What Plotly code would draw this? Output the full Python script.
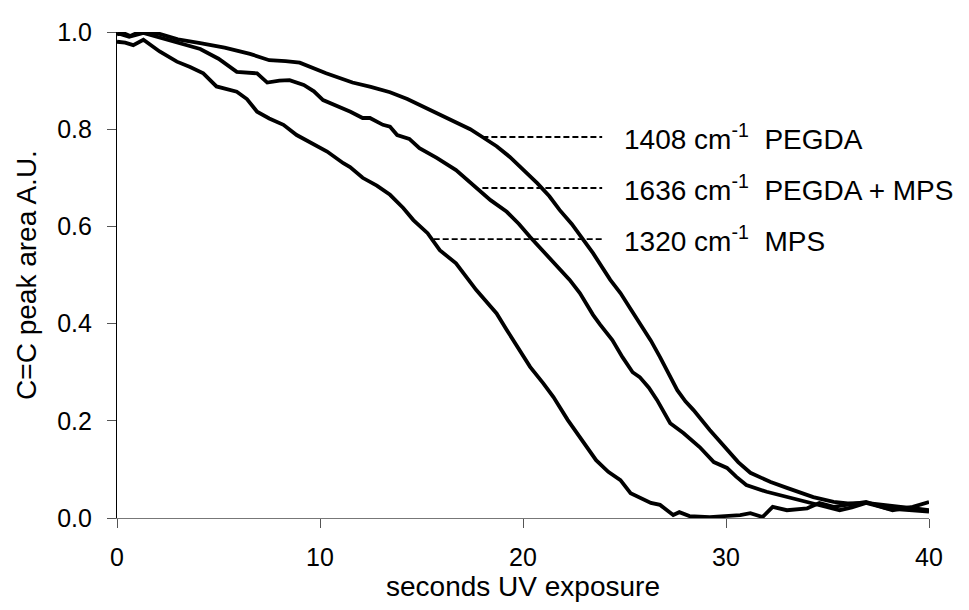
import plotly.graph_objects as go

# ---- data ----
pegda_x = [0, 0.3, 0.65, 1.1, 2.1, 3.0, 4.1, 5.3, 6.55, 7.5, 8.3, 9.0, 10.3, 11.0, 11.6, 12.5,
           13.45, 14.3, 15.1, 15.9, 16.7, 17.4, 18.0, 18.7, 19.35, 20.0, 20.7, 21.3, 21.8, 22.4,
           22.95, 23.45, 24.3, 24.8, 25.3, 25.9, 26.3, 26.75, 27.2, 27.6, 28.0, 28.4, 29.2, 30.05,
           30.6, 31.2, 32.2, 33.0, 34.3, 35.3, 36.0, 36.9, 37.8, 38.6, 39.3, 40]
pegda_y = [0.995, 0.998, 0.992, 1.0, 0.996, 0.985, 0.977, 0.968, 0.955, 0.942, 0.94, 0.937, 0.915,
           0.905, 0.896, 0.887, 0.876, 0.862, 0.846, 0.832, 0.815, 0.80, 0.784, 0.765, 0.743, 0.718,
           0.689, 0.662, 0.634, 0.605, 0.572, 0.545, 0.49, 0.463, 0.43, 0.393, 0.365, 0.331, 0.296,
           0.263, 0.24, 0.222, 0.181, 0.140, 0.115, 0.093, 0.074, 0.062, 0.043, 0.033, 0.030, 0.031,
           0.026, 0.023, 0.020, 0.016]

mix_x = [0, 0.6, 1.3, 2.45, 3.3, 4.1, 5.0, 5.9, 6.9, 7.4, 8.0, 8.5, 9.2, 9.7, 10.15, 11.1, 11.5,
         12.1, 12.46, 13.1, 13.45, 13.8, 14.4, 14.9, 15.75, 16.7, 17.7, 18.4, 19.2, 19.8, 20.35,
         21.0, 21.7, 22.3, 22.8, 23.45, 23.8, 24.4, 24.9, 25.4, 25.75, 26.2, 26.6, 27.25, 27.9,
         28.7, 29.4, 30.05, 30.5, 31.0, 32.0, 33.0, 34.0, 34.95, 35.6, 36.2, 36.9, 37.9, 38.9, 40]
mix_y = [0.998, 0.99, 0.998, 0.984, 0.975, 0.965, 0.945, 0.918, 0.915, 0.896, 0.9, 0.901, 0.891,
         0.878, 0.86, 0.843, 0.836, 0.823, 0.823, 0.809, 0.805, 0.788, 0.780, 0.761, 0.741, 0.716,
         0.681, 0.654, 0.630, 0.605, 0.578, 0.548, 0.516, 0.49, 0.463, 0.418, 0.398, 0.366, 0.331,
         0.30, 0.290, 0.268, 0.243, 0.195, 0.175, 0.146, 0.115, 0.103, 0.085, 0.068, 0.054, 0.043,
         0.033, 0.023, 0.016, 0.022, 0.031, 0.020, 0.016, 0.013]

mps_x = [0, 0.4, 0.8, 1.3, 2.1, 2.95, 3.6, 4.25, 4.9, 5.9, 6.4, 6.9, 7.5, 8.2, 8.85, 9.6, 10.35,
         11.15, 11.48, 12.1, 12.8, 13.45, 14.1, 14.6, 15.3, 15.9, 16.7, 17.7, 18.7, 19.2, 19.85,
         20.35, 21.0, 21.5, 22.2, 23.15, 23.6, 24.2, 24.8, 25.3, 26.3, 26.75, 27.4, 27.7, 28.2,
         29.2, 30.7, 31.2, 31.8, 32.3, 33.0, 34.0, 34.6, 35.3, 36.9, 38.2, 39.2, 40]
mps_y = [0.98, 0.978, 0.973, 0.984, 0.96, 0.939, 0.928, 0.915, 0.888, 0.877, 0.862, 0.836, 0.822,
         0.809, 0.788, 0.772, 0.754, 0.730, 0.722, 0.700, 0.684, 0.665, 0.638, 0.613, 0.586, 0.551,
         0.524, 0.469, 0.421, 0.387, 0.346, 0.311, 0.277, 0.249, 0.202, 0.146, 0.119, 0.095, 0.078,
         0.051, 0.031, 0.027, 0.006, 0.012, 0.004, 0.002, 0.006, 0.010, 0.002, 0.023, 0.016, 0.020,
         0.031, 0.023, 0.033, 0.016, 0.023, 0.033]

label_texts = ["1408 cm<sup>-1</sup>\u00a0\u00a0PEGDA",
               "1636 cm<sup>-1</sup>\u00a0\u00a0PEGDA + MPS",
               "1320 cm<sup>-1</sup>\u00a0\u00a0MPS"]
label_y = [0.784, 0.679, 0.574]
leader_start_x = [18.0, 18.0, 15.6]
leader_end_x = 23.9
label_x = 24.9

x_ticks = [0, 10, 20, 30, 40]
y_ticks = [0.0, 0.2, 0.4, 0.6, 0.8, 1.0]

FONT = "Liberation Sans, Arial, sans-serif"

fig = go.Figure()
for xs, ys in [(pegda_x, pegda_y), (mix_x, mix_y), (mps_x, mps_y)]:
    fig.add_trace(go.Scatter(x=xs, y=ys, mode="lines",
                             line=dict(color="black", width=3.8),
                             showlegend=False, hoverinfo="skip"))

for xs, yv in zip(leader_start_x, label_y):
    fig.add_trace(go.Scatter(x=[xs, leader_end_x], y=[yv, yv], mode="lines",
                             line=dict(color="black", width=1.8, dash="6px,3px"),
                             showlegend=False, hoverinfo="skip"))

for t, yv in zip(label_texts, label_y):
    fig.add_annotation(x=label_x, y=yv, xref="x", yref="y", text=t, showarrow=False,
                       xanchor="left", yanchor="middle",
                       font=dict(family=FONT, size=28, color="black"))

fig.update_layout(
    width=969, height=610,
    margin=dict(l=117, r=40, t=32, b=92),
    paper_bgcolor="white", plot_bgcolor="white",
    font=dict(family=FONT, color="black"),
)
fig.update_xaxes(range=[0, 40], tickvals=x_ticks, ticktext=[str(v) for v in x_ticks],
                 showgrid=False, zeroline=False,
                 showline=True, linecolor="#777777", linewidth=1.2,
                 ticks="outside", ticklen=9, tickcolor="#555555", tickwidth=1.2,
                 tickfont=dict(family=FONT, size=25, color="black"),
                 ticklabelstandoff=8,
                 title=dict(text="seconds UV exposure", font=dict(family=FONT, size=28, color="black"),
                            standoff=4))
fig.update_yaxes(range=[0, 1.0], tickvals=y_ticks, ticktext=[f"{v:.1f}" for v in y_ticks],
                 showgrid=False, zeroline=False,
                 showline=True, linecolor="black", linewidth=1.2,
                 ticks="outside", ticklen=9, tickcolor="#555555", tickwidth=1.2,
                 tickfont=dict(family=FONT, size=25, color="black"),
                 ticklabelstandoff=10,
                 title=dict(text="C=C peak area A.U.", font=dict(family=FONT, size=28, color="black"),
                            standoff=12))

fig.write_html("out.html")
